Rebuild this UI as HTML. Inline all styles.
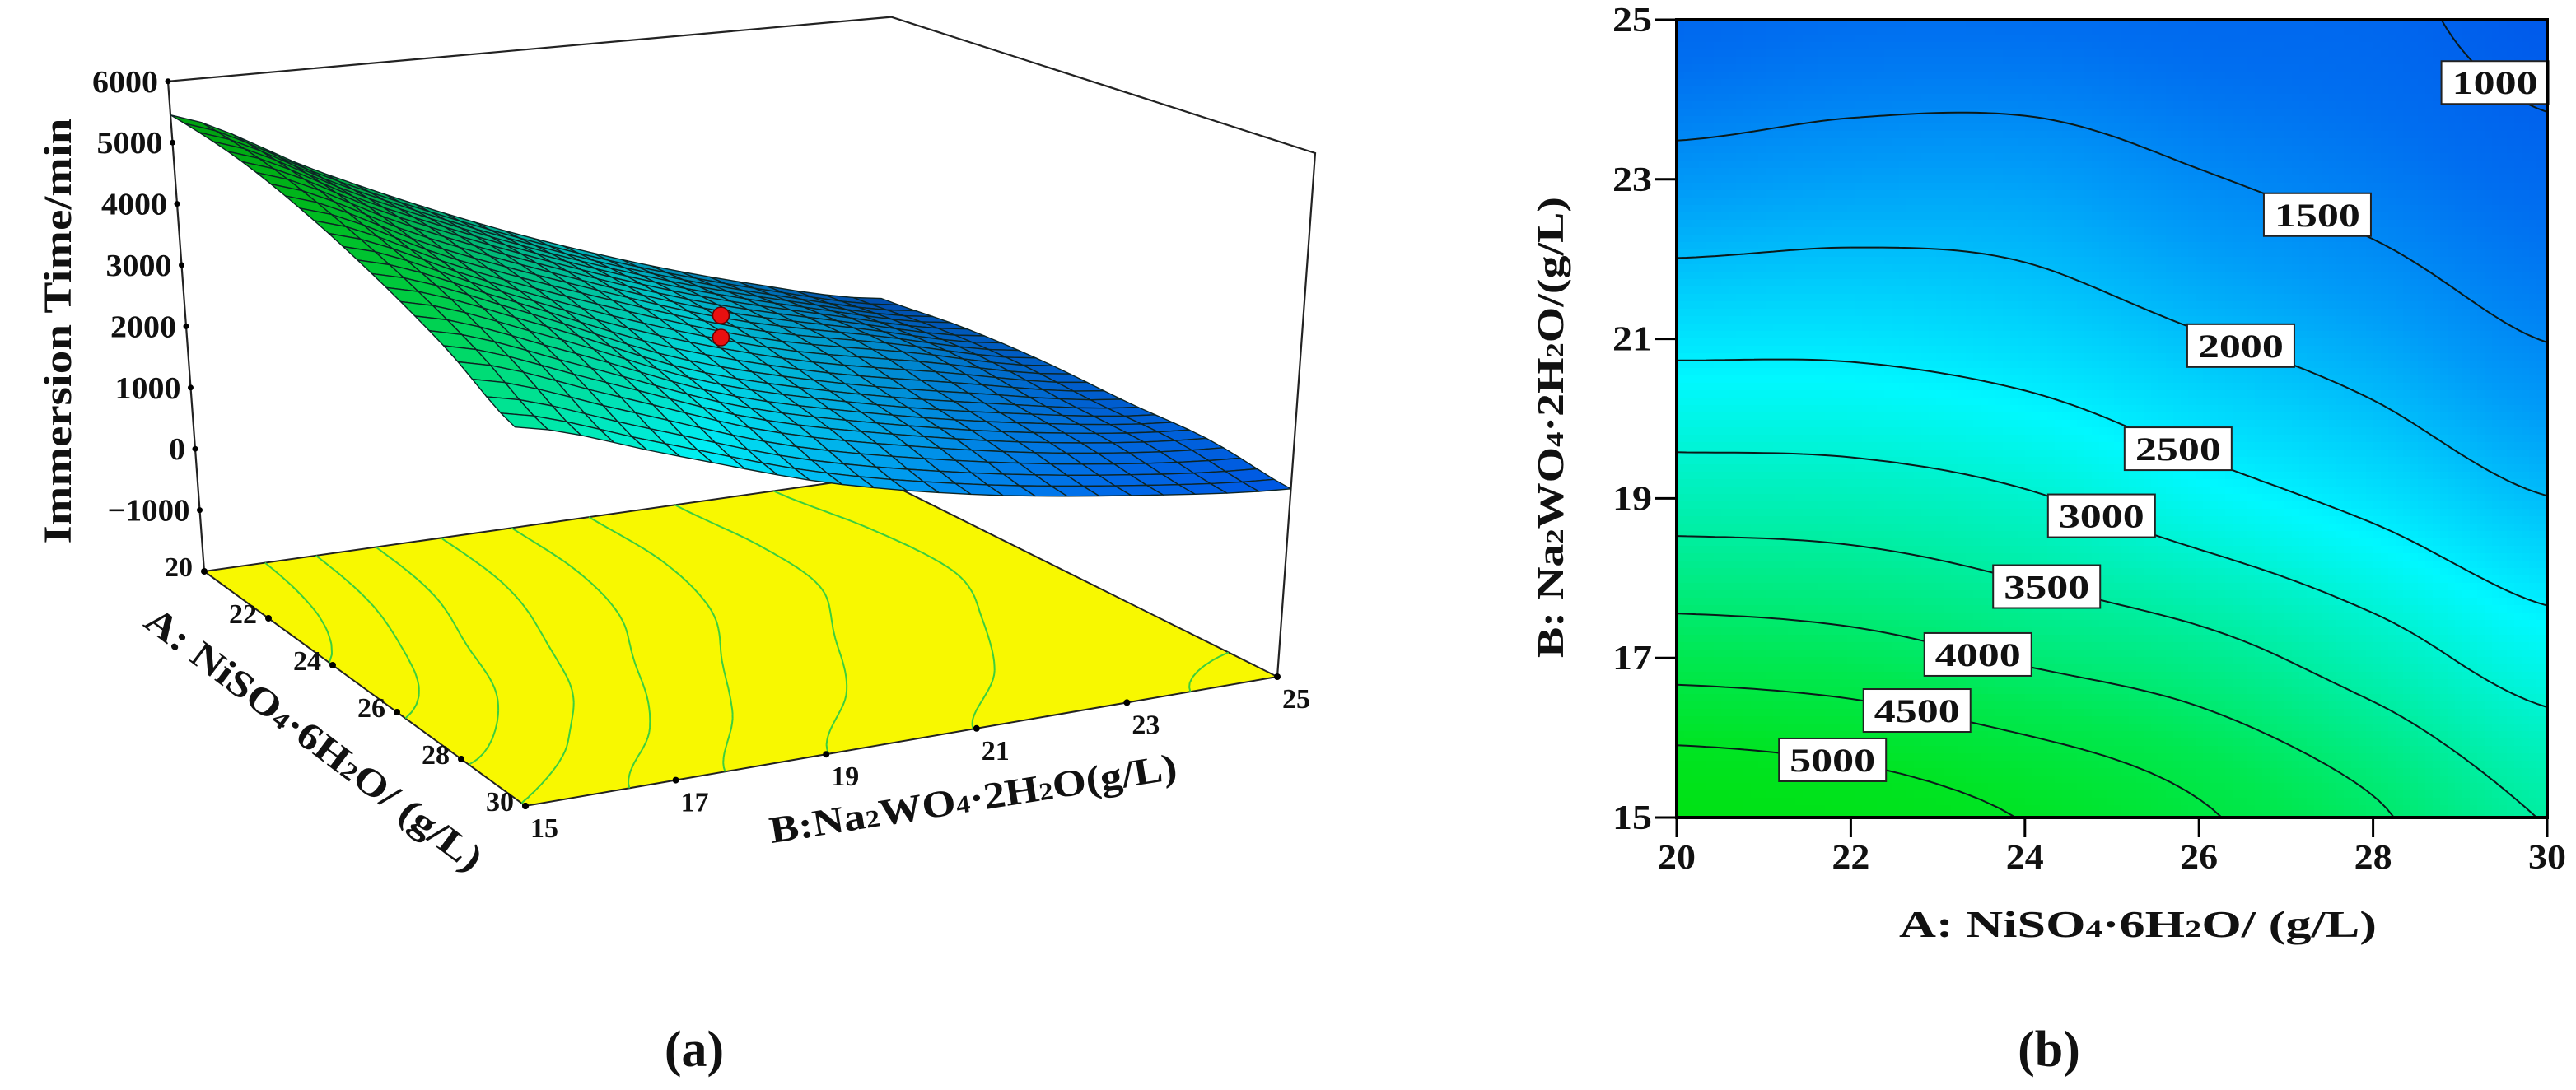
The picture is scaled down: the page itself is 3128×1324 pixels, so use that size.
<!DOCTYPE html>
<html><head><meta charset="utf-8"><style>
html,body{margin:0;padding:0;background:#fff;}
svg{display:block;}
text{font-family:"Liberation Serif",serif;font-weight:bold;fill:#111;}
</style></head><body>
<svg id="fig" width="3128" height="1324" viewBox="0 0 3128 1324" xmlns="http://www.w3.org/2000/svg">
<g id="panelA"></g>
<g id="panelB"></g>
<text x="843" y="1295" font-size="62" text-anchor="middle" font-weight="normal">(<tspan font-weight="bold">a</tspan>)</text>
<text x="2488" y="1295" font-size="62" text-anchor="middle" font-weight="normal">(<tspan font-weight="bold">b</tspan>)</text>
</svg>
<script>
// ---- data (response grid) ----
const aVals = [20, 22, 24, 26, 28, 30];
const bVals = [15, 17, 19, 21, 23, 25];
const zA20 = [5450, 4300, 3270, 2390, 1660, 1100];
const zA22 = [5300, 4200, 3230, 2390, 1740, 1200];
const zA24 = [4980, 3950, 3050, 2270, 1740, 1200];
const zA26 = [4560, 3700, 2700, 2030, 1530, 1120];
const zA28 = [4070, 3250, 2380, 1800, 1350, 1080];
const zA30 = [3480, 2750, 2010, 1490, 1130, 870];
const designA = [25, 25];
const designB = [20, 20];
const designZ = [3010, 2660];
const contourLevels = [1000, 1500, 2000, 2500, 3000, 3500, 4000, 4500, 5000];
const labelA = [29.4, 27.36, 26.48, 25.76, 24.88, 24.25, 23.46, 22.76, 21.79];
const zTicks = [6000, 5000, 4000, 3000, 2000, 1000, 0, -1000];
const aTicks = [20, 22, 24, 26, 28, 30];
const bTicks = [15, 17, 19, 21, 23, 25];

const rows = [zA20, zA22, zA24, zA26, zA28, zA30];
const NS = 'http://www.w3.org/2000/svg';
function mk(tag, attrs, parent){const e=document.createElementNS(NS,tag);for(const k in attrs)e.setAttribute(k,attrs[k]);parent.appendChild(e);return e;}
function cr(p,t){const n=p.length;let i=Math.floor(t);if(i<0)i=0;if(i>n-2)i=n-2;const u=t-i;
 const p0=p[Math.max(i-1,0)],p1=p[i],p2=p[i+1],p3=p[Math.min(i+2,n-1)];
 return 0.5*(2*p1+(-p0+p2)*u+(2*p0-5*p1+4*p2-p3)*u*u+(-p0+3*p1-3*p2+p3)*u*u*u);}
function zAt(a,b){const ta=(a-aVals[0])/(aVals[1]-aVals[0]);const tb=(b-bVals[0])/(bVals[1]-bVals[0]);
 const col=rows.map(r=>cr(r,tb));return cr(col,ta);}
const stops=[[700,[0,80,232]],[1200,[0,110,240]],[1700,[0,155,248]],[2200,[0,210,252]],[2600,[0,248,255]],[3100,[0,242,200]],[3700,[0,236,140]],[4300,[0,232,80]],[5000,[0,228,35]],[5600,[0,225,15]]];
function cmap(z,f){f=f||1;let c=stops[0][1];if(z>=stops[stops.length-1][0])c=stops[stops.length-1][1];
 else for(let i=0;i<stops.length-1;i++){if(z>=stops[i][0]&&z<stops[i+1][0]){const u=(z-stops[i][0])/(stops[i+1][0]-stops[i][0]);c=stops[i][1].map((v,k)=>v+(stops[i+1][1][k]-v)*u);break;}}
 return 'rgb('+c.map(v=>Math.round(v*f)).join(',')+')';}
function contourSegs(level,N){const segs=[];const da=10/N,db=10/N;
 for(let i=0;i<N;i++)for(let j=0;j<N;j++){const a0=20+i*da,b0=15+j*db;
  const c=[[a0,b0],[a0+da,b0],[a0+da,b0+db],[a0,b0+db]];const v=c.map(p=>zAt(p[0],p[1]));const pts=[];
  for(let k=0;k<4;k++){const k2=(k+1)%4;const v1=v[k]-level,v2=v[k2]-level;
   if((v1<0)!==(v2<0)){const u=v1/(v1-v2);pts.push([c[k][0]+(c[k2][0]-c[k][0])*u,c[k][1]+(c[k2][1]-c[k][1])*u]);}}
  if(pts.length>=2)segs.push([pts[0],pts[1]]);if(pts.length===4)segs.push([pts[2],pts[3]]);}
 return segs;}

// ================= Panel B: contour =================
const gB=document.getElementById('panelB');
const X0=2036,X1=3093,Y0=993,Y1=24;
function xB(a){return X0+(a-20)/10*(X1-X0);} function yB(b){return Y0-(b-15)/10*(Y0-Y1);}
const heat=mk('g',{'shape-rendering':'crispEdges'},gB);


const cs=9;
for(let x=X0;x<X1;x+=cs)for(let y=Y1;y<Y0;y+=cs){const w=Math.min(cs,X1-x),h=Math.min(cs,Y0-y);
 const a=20+(x+w/2-X0)/(X1-X0)*10,b=15+(Y0-(y+h/2))/(Y0-Y1)*10;
 mk('rect',{x:x,y:y,width:w+0.6,height:h+0.6,fill:cmap(zAt(a,b))},heat);}
const clines=mk('g',{stroke:'#0a1a1a','stroke-width':2,fill:'none'},gB);


contourLevels.forEach(l=>{let d='';contourSegs(l,90).forEach(s=>{d+='M'+xB(s[0][0]).toFixed(1)+' '+yB(s[0][1]).toFixed(1)+'L'+xB(s[1][0]).toFixed(1)+' '+yB(s[1][1]).toFixed(1);});
 const p=mk('path',{d:d},clines);});
contourLevels.forEach((l,i)=>{const a=labelA[i];let lo=15,hi=25;
 if(zAt(a,25)>l){lo=25;}else{for(let k=0;k<40;k++){const m=(lo+hi)/2;if(zAt(a,m)>l)lo=m;else hi=m;}}
 let b=Math.min(lo,24.55);const cx=xB(a),cy=yB(b);
 const g=mk('g',{},gB);
 mk('rect',{x:cx-65,y:cy-26,width:130,height:52,fill:'#fff',stroke:'#222','stroke-width':2},g);
 const t=mk('text',{x:cx,y:cy+14,'font-size':40,'text-anchor':'middle',textLength:104,lengthAdjust:'spacingAndGlyphs'},g);t.textContent=l;});
const frame=mk('rect',{x:X0,y:Y1,width:X1-X0,height:Y0-Y1,fill:'none',stroke:'#000','stroke-width':4},gB);

bTicks.forEach(b=>{const y=yB(b);const g=mk('g',{},gB);
 mk('line',{x1:X0-26,y1:y,x2:X0,y2:y,stroke:'#000','stroke-width':3},g);
 const t=mk('text',{x:X0-30,y:y+14,'font-size':42,'text-anchor':'end',textLength:48,lengthAdjust:'spacingAndGlyphs'},g);t.textContent=b;});
aTicks.forEach(a=>{const x=xB(a);const g=mk('g',{},gB);
 mk('line',{x1:x,y1:Y0,x2:x,y2:Y0+24,stroke:'#000','stroke-width':3},g);
 const t=mk('text',{x:x,y:Y0+62,'font-size':42,'text-anchor':'middle',textLength:46,lengthAdjust:'spacingAndGlyphs'},g);t.textContent=a;});
{const t=mk('text',{x:2596,y:1138,'font-size':46,'text-anchor':'middle',textLength:580,lengthAdjust:'spacingAndGlyphs'},gB);
 
 t.innerHTML='A: NiSO<tspan font-size="30">4</tspan>·6H<tspan font-size="30">2</tspan>O/ (g/L)';}
{const t=mk('text',{x:0,y:0,'font-size':46,'text-anchor':'middle',textLength:560,lengthAdjust:'spacingAndGlyphs',transform:'translate(1898,519) rotate(-90)'},gB);
 
 t.innerHTML='B: Na<tspan font-size="30">2</tspan>WO<tspan font-size="30">4</tspan>·2H<tspan font-size="30">2</tspan>O/(g/L)';}

// ================= Panel A: 3D surface =================
const gA=document.getElementById('panelA');
const FBL=[248,694],FFL=[638,979],FFR=[1551,822],FBR=[1063,579];
const UBL=[-5.5,-74.4],UFL=[-2.3,-84],UFR=[5.75,-79.5],UBR=[2.4,-69.8];
const ZF=-2000;
function bil(P0,P1,P2,P3,s,t){return [0,1].map(k=>(1-s)*(1-t)*P0[k]+s*(1-t)*P1[k]+s*t*P2[k]+(1-s)*t*P3[k]);}
function proj(a,b,z){const s=(a-20)/10,t=(b-15)/10;const f=bil(FBL,FFL,FFR,FBR,s,t),u=bil(UBL,UFL,UFR,UBR,s,t);const h=(z-ZF)/1000;return [f[0]+u[0]*h,f[1]+u[1]*h];}
function P(p){return p[0].toFixed(1)+','+p[1].toFixed(1);}
const box=mk('g',{stroke:'#222','stroke-width':2.2,fill:'none'},gA);

mk('polyline',{points:[proj(20,15,6000),proj(20,25,6000),proj(30,25,6000),proj(30,25,ZF)].map(P).join(' ')},box);
mk('line',{x1:proj(20,15,6000)[0],y1:proj(20,15,6000)[1],x2:FBL[0],y2:FBL[1]},box);
const floor=mk('polygon',{points:[FBL,FFL,FFR,FBR].map(P).join(' '),fill:'#f8f800',stroke:'#222','stroke-width':2},gA);

const fl=mk('g',{stroke:'#3ccf3c','stroke-width':2,fill:'none'},gA);

contourLevels.forEach(l=>{let d='';contourSegs(l,60).forEach(s=>{d+='M'+P(proj(s[0][0],s[0][1],ZF))+'L'+P(proj(s[1][0],s[1][1],ZF));});mk('path',{d:d},fl);});
const surf=mk('g',{stroke:'#0d2424','stroke-width':1.4,'stroke-linejoin':'round'},gA);

const N=24,quads=[];
for(let i=0;i<N;i++)for(let j=0;j<N;j++){const a0=20+i*10/N,a1=a0+10/N,b0=15+j*10/N,b1=b0+10/N;
 const zs=[zAt(a0,b0),zAt(a1,b0),zAt(a1,b1),zAt(a0,b1)];
 const pts=[proj(a0,b0,zs[0]),proj(a1,b0,zs[1]),proj(a1,b1,zs[2]),proj(a0,b1,zs[3])];
 const depth=proj((a0+a1)/2,(b0+b1)/2,ZF)[1];const zm=(zs[0]+zs[1]+zs[2]+zs[3])/4;
 const shade=0.72+0.26*(i/N);quads.push({pts,depth,zm,shade});}
quads.sort((p,q)=>p.depth-q.depth);
quads.forEach(q=>{mk('polygon',{points:q.pts.map(P).join(' '),fill:cmap(q.zm,q.shade)},surf);});
designZ.forEach((z,i)=>{const p=proj(designA[i],designB[i],z);const c=mk('circle',{cx:p[0],cy:p[1],r:10,fill:'#e81010',stroke:'#600','stroke-width':1.5},gA);
 });
zTicks.forEach(v=>{const p=proj(20,15,v);const g=mk('g',{},gA);
 mk('circle',{cx:p[0],cy:p[1],r:3.5,fill:'#000'},g);
 const t=mk('text',{x:p[0]-12,y:p[1]+13,'font-size':38,'text-anchor':'end','font-weight':'normal',textLength:(String(v).length*20),lengthAdjust:'spacingAndGlyphs'},g);t.textContent=v===-1000?'\u22121000':v;});
aTicks.forEach(a=>{const p=proj(a,15,ZF);const g=mk('g',{},gA);
 mk('circle',{cx:p[0],cy:p[1],r:4,fill:'#000'},g);
 const t=mk('text',{x:p[0]-14,y:p[1]+6,'font-size':34,'text-anchor':'end','font-weight':'normal'},g);t.textContent=a;});
bTicks.forEach(b=>{const p=proj(30,b,ZF);const g=mk('g',{},gA);
 mk('circle',{cx:p[0],cy:p[1],r:4,fill:'#000'},g);
 const t=mk('text',{x:p[0]+6,y:p[1]+38,'font-size':34,'font-weight':'normal'},g);t.textContent=b;});
{const t=mk('text',{x:0,y:0,'font-size':48,'text-anchor':'middle',textLength:517,lengthAdjust:'spacingAndGlyphs',transform:'translate(86,402) rotate(-90)'},gA);
 t.textContent='Immersion Time/min';}
{const t=mk('text',{x:0,y:0,'font-size':46,'text-anchor':'middle',textLength:500,lengthAdjust:'spacingAndGlyphs',transform:'translate(372,910) rotate(37)'},gA);
 
 t.innerHTML='A: NiSO<tspan font-size="30">4</tspan>·6H<tspan font-size="30">2</tspan>O/ (g/L)';}
{const t=mk('text',{x:0,y:0,'font-size':46,'text-anchor':'middle',textLength:500,lengthAdjust:'spacingAndGlyphs',transform:'translate(1184,985) rotate(-9)'},gA);
 
 t.innerHTML='B:Na<tspan font-size="30">2</tspan>WO<tspan font-size="30">4</tspan>·2H<tspan font-size="30">2</tspan>O(g/L)';}
</script>
</body></html>
